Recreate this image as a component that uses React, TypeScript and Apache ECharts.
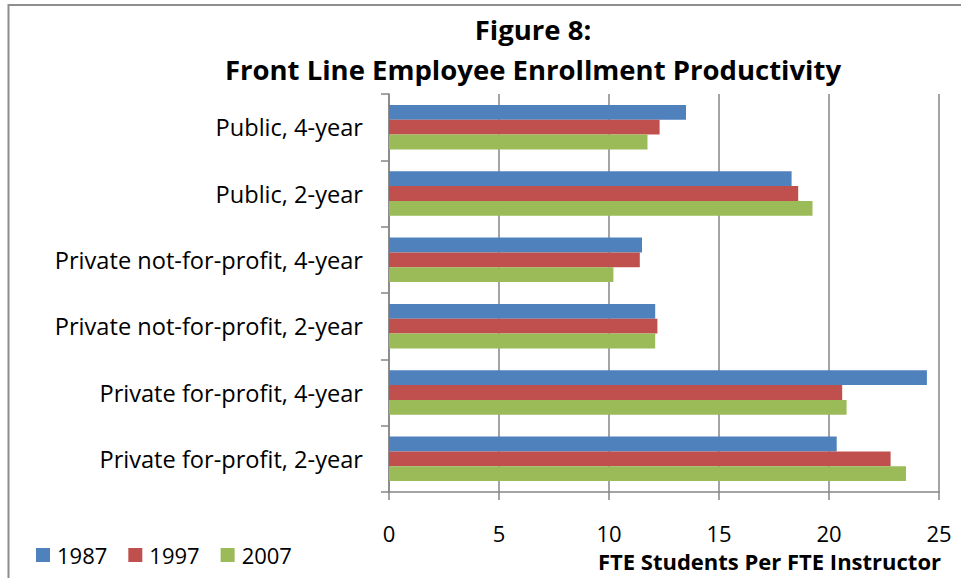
import React, { useEffect, useRef } from "react";
import * as echarts from "echarts";

const categories = [
  "Public, 4-year",
  "Public, 2-year",
  "Private not-for-profit, 4-year",
  "Private not-for-profit, 2-year",
  "Private for-profit, 4-year",
  "Private for-profit, 2-year",
];
const seriesNames = ["1987", "1997", "2007"];
const values1987 = [13.5, 18.3, 11.5, 12.1, 24.45, 20.35];
const values1997 = [12.3, 18.6, 11.4, 12.2, 20.6, 22.8];
const values2007 = [11.75, 19.25, 10.2, 12.1, 20.8, 23.5];
const colors = ["#4F81BD", "#C0504D", "#9BBB59"];
const xTicks = [0, 25, 5];

const FONT = "'Open Sans', sans-serif";
const AXIS = "#868686";

export default function App() {
  const ref = useRef<HTMLDivElement>(null);
  useEffect(() => {
    if (!ref.current) return;
    const chart = echarts.init(ref.current, null, { renderer: "svg" });
    const data = [values1987, values1997, values2007];
    chart.setOption({
      animation: false,
      backgroundColor: "#ffffff",
      title: {
        text: "Figure 8:\nFront Line Employee Enrollment Productivity",
        left: 528,
        top: 4,
        textAlign: "center",
        textStyle: {
          fontFamily: FONT,
          fontSize: 27.5,
          fontWeight: "bold",
          color: "#000",
          lineHeight: 40,
        },
      },
      legend: {
        data: seriesNames,
        left: 31,
        top: 539,
        icon: "rect",
        itemWidth: 14,
        itemHeight: 14,
        itemGap: 21,
        textStyle: { fontFamily: FONT, fontSize: 22, color: "#000", padding: [0, 0, 0, 2] },
      },
      grid: { left: 389, right: 22, top: 94, bottom: 86, containLabel: false },
      xAxis: {
        type: "value",
        min: xTicks[0],
        max: xTicks[1],
        interval: xTicks[2],
        axisLine: { show: true, lineStyle: { color: AXIS, width: 1.5 } },
        axisTick: { show: true, length: 8, lineStyle: { color: AXIS, width: 1.5 } },
        axisLabel: { margin: 30, fontFamily: FONT, fontSize: 22, color: "#000" },
        splitLine: { show: true, lineStyle: { color: AXIS, width: 1.5 } },
      },
      yAxis: {
        type: "category",
        data: categories,
        inverse: true,
        axisLine: { show: true, lineStyle: { color: AXIS, width: 1.5 } },
        axisTick: { show: true, length: 8, lineStyle: { color: AXIS, width: 1.5 } },
        axisLabel: { margin: 26, fontFamily: FONT, fontSize: 23.6, color: "#000" },
        splitLine: { show: false },
      },
      graphic: [
        {
          type: "rect",
          shape: { x: 8.5, y: 5, width: 2000, height: 2000 },
          style: { fill: "none", stroke: "#8e8e8e", lineWidth: 2 },
          silent: true,
        },
        {
          type: "text",
          x: 941,
          y: 561,
          style: {
            text: "FTE Students Per FTE Instructor",
            fontFamily: FONT,
            fontSize: 22,
            fontWeight: "bold",
            fill: "#000",
            textAlign: "right",
            textVerticalAlign: "middle",
          },
        },
      ],
      series: seriesNames.map((name, i) => ({
        name,
        type: "bar",
        data: data[i],
        barGap: "0%",
        barCategoryGap: "33%",
        itemStyle: { color: colors[i] },
      })),
    });
    return () => chart.dispose();
  }, []);
  return (
    <div
      ref={ref}
      style={{ position: "fixed", left: 0, top: 0, width: 961, height: 578 }}
    />
  );
}
